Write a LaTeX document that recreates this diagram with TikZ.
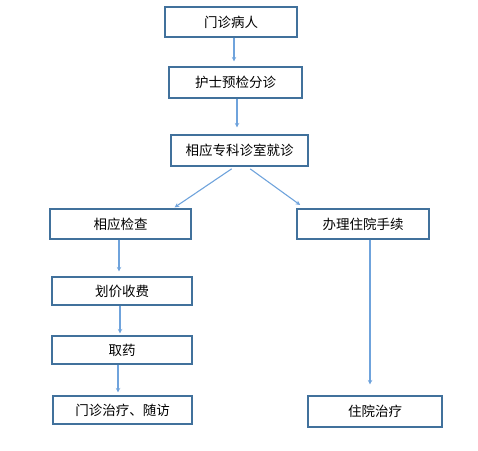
\documentclass[tikz,border=0pt]{standalone}
\usepackage{fontspec}
\setmainfont{Noto Sans CJK SC}
\usetikzlibrary{arrows.meta,calc}
\definecolor{boxblue}{HTML}{41719C}
\definecolor{arrblue}{HTML}{6FA3DC}
\tikzset{
  fbox/.style={draw=boxblue, line width=1.1pt, fill=white, inner sep=0pt, font=\fontsize{13.5}{15}\selectfont},
  arr/.style={draw=arrblue, line width=1.1pt, -{Stealth[length=4.5pt,width=4.5pt]}}
}
\begin{document}
\begin{tikzpicture}[x=1pt,y=-1pt]
\useasboundingbox (0,0) rectangle (478,450);
\node[fbox, minimum width=132pt, minimum height=30pt] (b1) at (231,22) {门诊病人};
\node[fbox, minimum width=133pt, minimum height=31pt] (b2) at (235.5,82.5) {护士预检分诊};
\node[fbox, minimum width=137pt, minimum height=31pt] (b3) at (239.5,150.5) {相应专科诊室就诊};
\node[fbox, minimum width=141pt, minimum height=30pt] (b4) at (120.5,224) {相应检查};
\node[fbox, minimum width=140pt, minimum height=28pt] (b5) at (122,291) {划价收费};
\node[fbox, minimum width=140pt, minimum height=28pt] (b6) at (122,350) {取药};
\node[fbox, minimum width=139pt, minimum height=28pt] (b7) at (122.5,410) {门诊治疗、随访};
\node[fbox, minimum width=132pt, minimum height=30pt] (b8) at (363,224) {办理住院手续};
\node[fbox, minimum width=134pt, minimum height=31pt] (b9) at (375,411.5) {住院治疗};

\draw[arr, shorten >=5pt] ([xshift=3pt]b1.south) -- ([xshift=3pt]b1.south |- b2.north);
\draw[arr, shorten >=7pt] ([xshift=1.5pt]b2.south) -- ([xshift=1.5pt]b2.south |- b3.north);
\draw[arr, shorten <=4pt, shorten >=2pt] ([xshift=-4.5pt]b3.south) -- ([xshift=52.5pt]b4.north);
\draw[arr, shorten <=4pt, shorten >=6pt] ([xshift=7.5pt]b3.south) -- ([xshift=-58pt]b8.north);
\draw[arr, shorten >=5pt] ([xshift=-1.5pt]b4.south) -- ([xshift=-1.5pt]b4.south |- b5.north);
\draw[arr, shorten >=2pt] ([xshift=-2pt]b5.south) -- ([xshift=-2pt]b5.south |- b6.north);
\draw[arr, shorten >=3pt] ([xshift=-4pt]b6.south) -- ([xshift=-4pt]b6.south |- b7.north);
\draw[arr, shorten >=11pt] ([xshift=7pt]b8.south) -- ([xshift=7pt]b8.south |- b9.north);
\end{tikzpicture}
\end{document}
